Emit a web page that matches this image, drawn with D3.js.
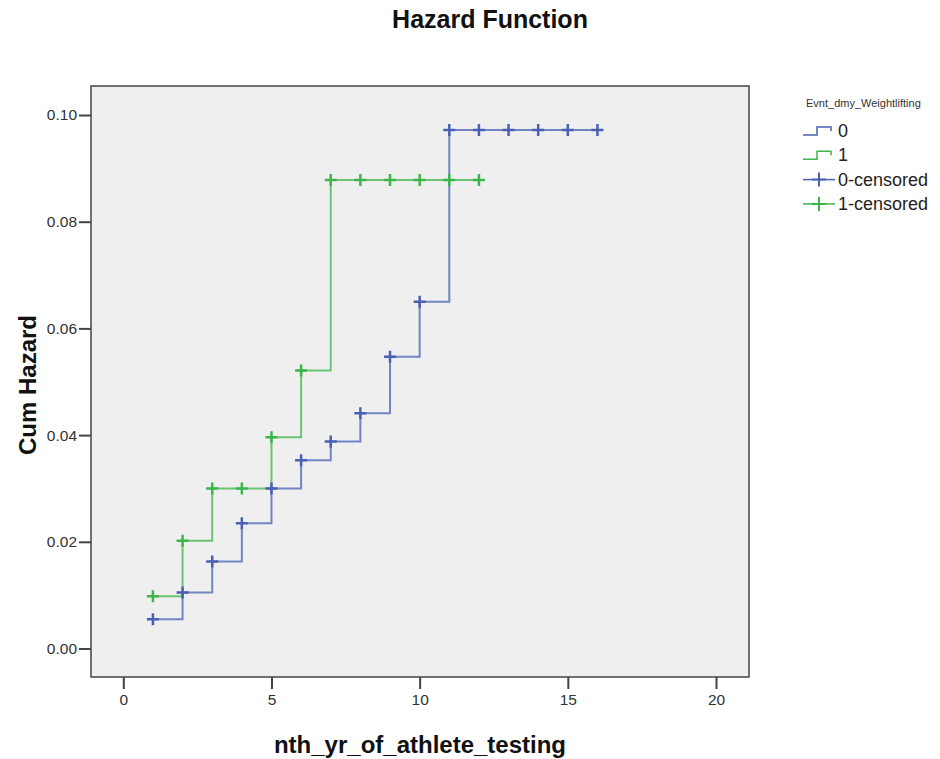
<!DOCTYPE html>
<html>
<head>
<meta charset="utf-8">
<script src="https://cdn.jsdelivr.net/npm/d3@7"></script>
<style>
  body { margin: 0; background: #fff; }
  text { font-family: "Liberation Sans", Arial, sans-serif; }
</style>
</head>
<body>
<div id="chart"></div>
<script>
(() => {
  // data
  const years = d3.range(1, 17);
  const hazard0 = [0.0055, 0.0105, 0.0163, 0.0235, 0.0300, 0.0353, 0.0388, 0.0441,
                   0.0547, 0.0650, 0.0972, 0.0972, 0.0972, 0.0972, 0.0972, 0.0972];
  const hazard1 = [0.0098, 0.0202, 0.0300, 0.0300, 0.0396, 0.0521, 0.0878, 0.0878,
                   0.0878, 0.0878, 0.0878, 0.0878];
  const groups = ["0", "1"];
  const xTicks = [0, 5, 10, 15, 20];
  const yTicks = [0, 0.02, 0.04, 0.06, 0.08, 0.10];

  const colors = { "0": "#4a60b4", "1": "#3db54a" };
  const width = 940, height = 759;
  const frame = { left: 91, top: 86, right: 749, bottom: 677 };

  const svg = d3.select("#chart").append("svg")
    .attr("width", width)
    .attr("height", height);

  const x = d3.scaleLinear().domain([0, 20]).range([123.3, 716]);
  const y = d3.scaleLinear().domain([0, 0.1]).range([648.5, 115]);

  // plot background
  svg.append("rect")
    .attr("x", frame.left).attr("y", frame.top)
    .attr("width", frame.right - frame.left)
    .attr("height", frame.bottom - frame.top)
    .attr("fill", "#efefef")
    .attr("stroke", "#444")
    .attr("stroke-width", 1.5);

  // axes
  const yAxis = svg.append("g")
    .attr("transform", `translate(${frame.left},0)`)
    .call(d3.axisLeft(y).tickValues(yTicks).tickFormat(d3.format(".2f")).tickSize(12).tickPadding(2));
  const xAxis = svg.append("g")
    .attr("transform", `translate(0,${frame.bottom})`)
    .call(d3.axisBottom(x).tickValues(xTicks).tickSize(12).tickPadding(5));
  [xAxis, yAxis].forEach(a => {
    a.select(".domain").remove();
    a.selectAll(".tick line").attr("stroke", "#444").attr("stroke-width", 2);
    a.selectAll(".tick text")
      .attr("fill", "#333")
      .style("font-size", "15.5px")
      .style("font-family", "'Liberation Sans', Arial, sans-serif");
  });

  // series
  const series = [
    { key: "0", values: hazard0.map((h, i) => ({ t: years[i], h })) },
    { key: "1", values: hazard1.map((h, i) => ({ t: years[i], h })) }
  ];
  const line = d3.line()
    .x(d => x(d.t))
    .y(d => y(d.h))
    .curve(d3.curveStepAfter);

  const plot = svg.append("g");
  series.forEach(s => {
    plot.append("path")
      .datum(s.values)
      .attr("fill", "none")
      .attr("stroke", colors[s.key])
      .attr("stroke-opacity", 0.75)
      .attr("stroke-width", 2)
      .attr("d", line);
  });

  // censor marks
  const cross = (g, cx, cy, r, color, sw) => {
    g.append("path")
      .attr("d", `M${cx - r},${cy}H${cx + r}M${cx},${cy - r}V${cy + r}`)
      .attr("stroke", color)
      .attr("stroke-width", sw)
      .attr("fill", "none");
  };
  series.forEach(s => {
    s.values.forEach(d => cross(plot, x(d.t), y(d.h), 6, colors[s.key], 2.5));
  });

  // title
  svg.append("text")
    .attr("x", 490).attr("y", 28)
    .attr("text-anchor", "middle")
    .style("font-size", "25px")
    .style("font-weight", "bold")
    .attr("fill", "#111")
    .text("Hazard Function");

  // axis labels
  svg.append("text")
    .attr("transform", "translate(36,385) rotate(-90)")
    .attr("text-anchor", "middle")
    .style("font-size", "24px")
    .style("font-weight", "bold")
    .attr("fill", "#111")
    .text("Cum Hazard");
  svg.append("text")
    .attr("x", 420).attr("y", 753)
    .attr("text-anchor", "middle")
    .style("font-size", "24px")
    .style("font-weight", "bold")
    .attr("fill", "#111")
    .text("nth_yr_of_athlete_testing");

  // legend
  const legend = svg.append("g").attr("transform", "translate(803,0)");
  legend.append("text")
    .attr("x", 3).attr("y", 107)
    .style("font-size", "11px")
    .attr("fill", "#333")
    .text("Evnt_dmy_Weightlifting");
  const legendItems = [
    { label: "0", key: "0", type: "step" },
    { label: "1", key: "1", type: "step" },
    { label: "0-censored", key: "0", type: "cross" },
    { label: "1-censored", key: "1", type: "cross" }
  ];
  legendItems.forEach((d, i) => {
    const cy = 131 + i * 24.3;
    if (d.type === "step") {
      legend.append("path")
        .attr("d", `M0,${cy + 4}H14V${cy - 4}H28V${cy}`)
        .attr("fill", "none")
        .attr("stroke", colors[d.key])
        .attr("stroke-width", 1.5);
    } else {
      legend.append("path")
        .attr("d", `M0,${cy}H32`)
        .attr("stroke", colors[d.key])
        .attr("stroke-width", 1.5);
      cross(legend, 16, cy, 7, colors[d.key], 2);
    }
    legend.append("text")
      .attr("x", 35).attr("y", cy + 6)
      .style("font-size", "18px")
      .attr("fill", "#222")
      .text(d.label);
  });
})();
</script>
</body>
</html>
